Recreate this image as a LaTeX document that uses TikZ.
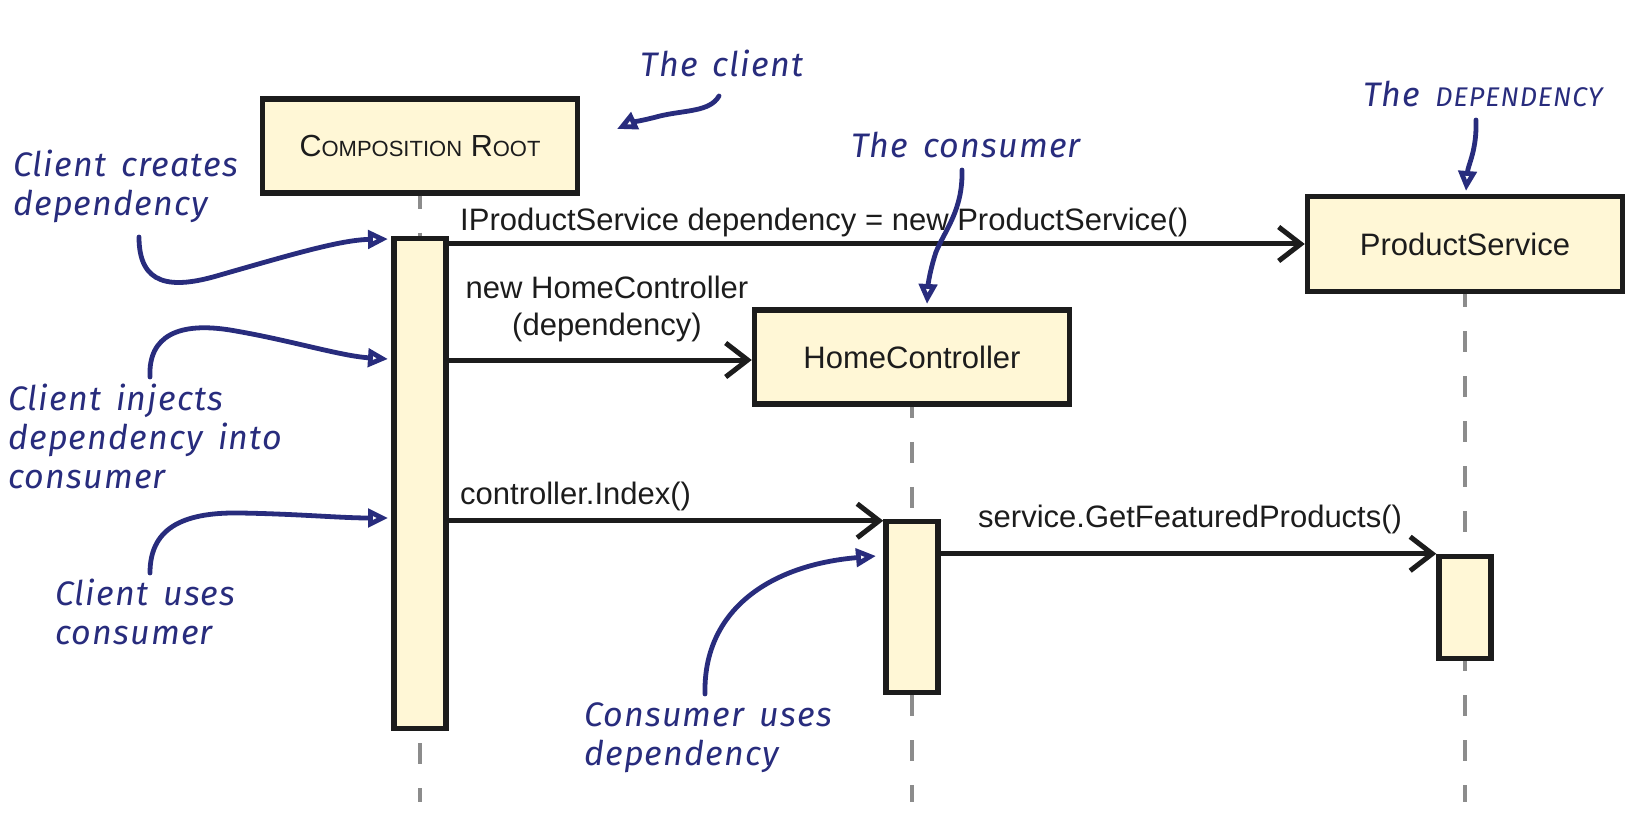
\documentclass[tikz,border=0pt]{standalone}
\usepackage{fontspec}
\setmainfont{Liberation Sans}
\newfontfamily\handfont{Fira Sans}[LetterSpace=3.5,WordSpace=1.5]
\usetikzlibrary{arrows.meta}
\definecolor{hand}{RGB}{40,44,125}
\definecolor{boxfill}{RGB}{255,247,214}
\definecolor{ink}{RGB}{28,28,28}
\definecolor{lifegray}{RGB}{140,140,140}
\newcommand{\scC}[1]{{\fontsize{30.5}{36}\selectfont #1}}
\newcommand{\scL}[1]{{\fontsize{22}{26}\selectfont #1}}
\begin{document}
\begin{tikzpicture}[x=1pt,y=-1pt,
  obj/.style={draw=ink, line width=5.5pt, fill=boxfill, minimum width=315pt, minimum height=94pt, inner sep=0pt, font=\fontsize{31}{36}\selectfont, text=ink},
  act/.style={draw=ink, line width=5.5pt, fill=boxfill, minimum width=52pt, inner sep=0pt},
  msg/.style={draw=ink, line width=5pt, -{Straight Barb[length=22pt,width=34pt]}},
  msglabel/.style={font=\fontsize{31}{37}\selectfont, text=ink, inner sep=0pt},
  life/.style={draw=lifegray, line width=4pt},
  note/.style={font=\handfont\itshape\fontsize{34}{39}\selectfont, text=hand, inner sep=0pt, align=left},
  pointer/.style={draw=hand, line width=4.8pt, line cap=round, -{Triangle[open,length=20pt,width=18pt,fill=white]}}
]
\useasboundingbox (0,0) rectangle (1644,826);

% objects
\node[obj] (cr) at (420,146) {\scC{C}\scL{OMPOSITION} \scC{R}\scL{OOT}};
\node[obj, minimum height=95pt] (ps) at (1465,244) {ProductService};
\node[obj] (hc) at (912,357) {HomeController};

% activations
\node[act, minimum height=490pt] (cra) at (420,483.5) {};
\node[act, minimum height=171pt] (hca) at (912,607) {};
\node[act, minimum height=102pt] (psa) at (1465,607.5) {};

% lifeline ends
\coordinate (crend) at (420,802);
\coordinate (hcend) at (912,802);
\coordinate (psend) at (1465,802);

\draw[life, dash pattern=on 21pt off 24pt, dash phase=8pt] (cr.south) -- (cra.north);
\draw[life, dash pattern=on 21pt off 24pt, dash phase=33pt] (cra.south) -- (crend);
\draw[life, dash pattern=on 21pt off 24pt, dash phase=10pt] (hc.south) -- (hca.north);
\draw[life, dash pattern=on 21pt off 24pt, dash phase=0pt] (hca.south) -- (hcend);
\draw[life, dash pattern=on 21pt off 24pt, dash phase=8pt] (ps.south) -- (psa.north);
\draw[life, dash pattern=on 21pt off 24pt, dash phase=11pt] (psa.south) -- (psend);

% messages
\coordinate (m2) at ([yshift=-3pt]hc.west);
\coordinate (m3) at ([yshift=-2pt]hca.north west);
\coordinate (m4) at (psa.north west);
\draw[msg] (cra.east |- ps.west) -- (ps.west);
\draw[msg] (cra.east |- m2) -- (m2);
\draw[msg] (cra.east |- m3) -- (m3);
\draw[msg] (hca.east |- m4) -- (m4);

\node[msglabel, anchor=base west] (l1) at (460,231) {IProductService dependency = new ProductService()};
\node[msglabel, anchor=north, align=center] (l2) at (607,276) {new HomeController\\(dependency)};
\node[msglabel, anchor=base west] (l3) at (460,504) {controller.Index()};
\node[msglabel, anchor=base west] (l4) at (978,527) {service.GetFeaturedProducts()};

% notes
\node[note, anchor=base] (nclient) at (722,77) {The client};
\node[note, anchor=base] (nconsumer) at (966,158) {The consumer};
\node[note, anchor=base] (ndep) at (1483,107) {The {\fontsize{27}{30}\selectfont DEPENDENCY}};
\node[note, anchor=north west] (ncreates) at (13,150) {Client creates\\dependency};
\node[note, anchor=north west] (ninjects) at (8,384) {Client injects\\dependency into\\consumer};
\node[note, anchor=north west] (nuses) at (55,579) {Client uses\\consumer};
\node[note, anchor=north west] (ncuses) at (584,702) {Consumer uses\\dependency};

% pointer coordinates
\coordinate (s1) at (719,96);   \coordinate (t1) at (617,129);
\coordinate (s2) at (139,237);  \coordinate (t2) at (388,239);
\coordinate (s3) at (150,377);  \coordinate (t3) at (388,359);
\coordinate (s4) at (150,573);  \coordinate (t4) at (388,518);
\coordinate (s5) at (705,694);  \coordinate (t5) at (876,556);
\coordinate (s6) at (962,170);  \coordinate (t6) at (927,304);
\coordinate (s7) at (1476,120); \coordinate (t7) at (1466,191);

\draw[pointer] (s1) .. controls (710,112) and (685,110) .. (660,116) .. controls (645,120) and (630,123) .. (t1);
\draw[pointer] (s2) .. controls (139,285) and (170,290) .. (220,275) .. controls (290,255) and (340,240) .. (t2);
\draw[pointer] (s3) .. controls (148,335) and (180,322) .. (230,330) .. controls (290,340) and (340,356) .. (t3);
\draw[pointer] (s4) .. controls (150,530) and (180,512) .. (240,513) .. controls (300,514) and (340,518) .. (t4);
\draw[pointer] (s5) .. controls (703,610) and (770,565) .. (t5);
\draw[pointer] (s6) .. controls (963,210) and (945,230) .. (936,252) .. controls (930,270) and (928,285) .. (t6);
\draw[pointer] (s7) .. controls (1477,150) and (1468,165) .. (t7);
\end{tikzpicture}
\end{document}
